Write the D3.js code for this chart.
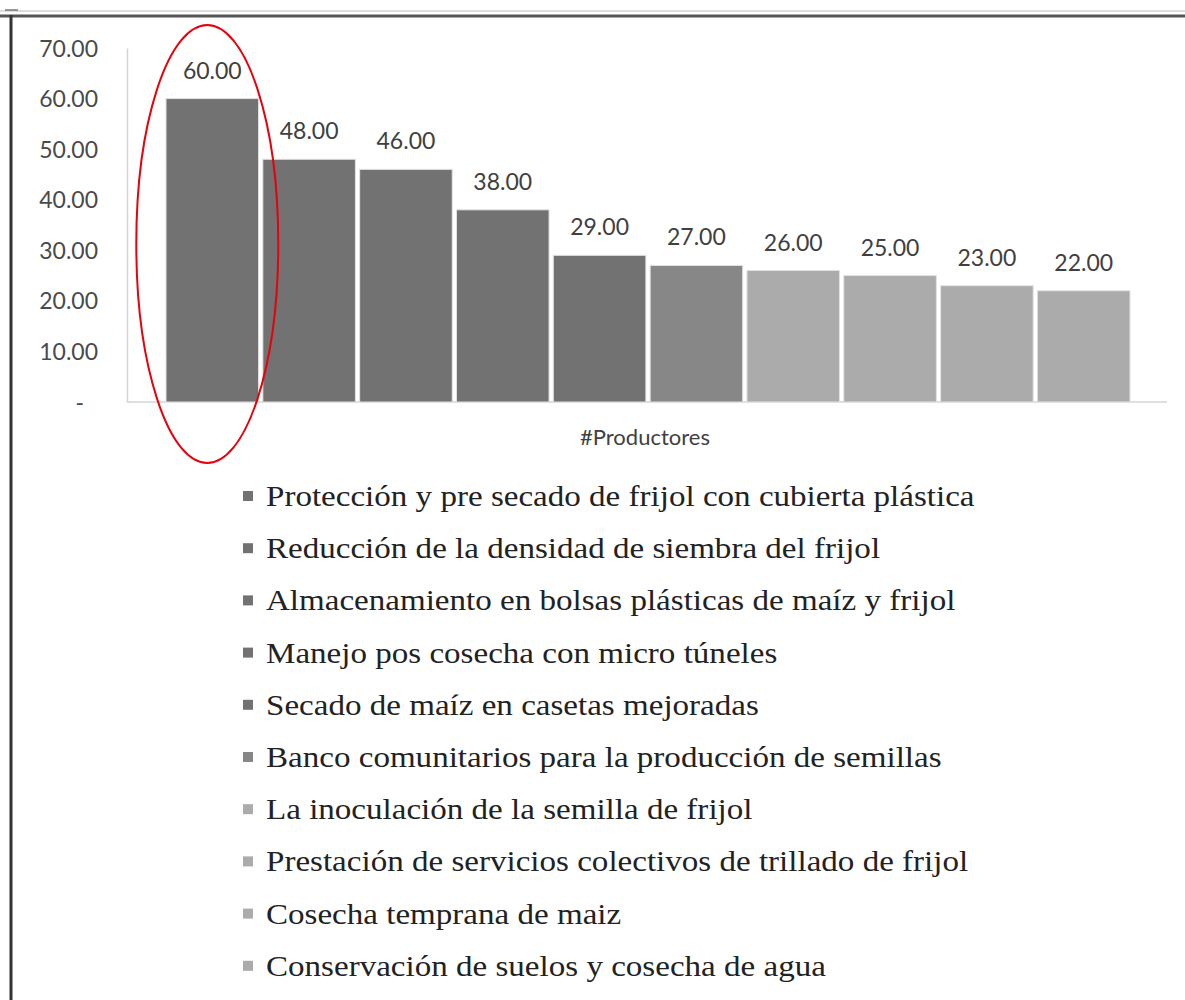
<!DOCTYPE html>
<html>
<head>
<meta charset="utf-8">
<script src="https://cdn.jsdelivr.net/npm/d3@7"></script>
<style>
  body { margin: 0; background: #fff; }
  svg { display: block; }
</style>
</head>
<body>
<svg id="chart" width="1185" height="1000"></svg>
<script>
// data
const practicas = [
  "Protección y pre secado de frijol con cubierta plástica",
  "Reducción de la densidad de siembra del frijol",
  "Almacenamiento en bolsas plásticas de maíz y frijol",
  "Manejo pos cosecha con micro túneles",
  "Secado de maíz en casetas mejoradas",
  "Banco comunitarios para la producción de semillas",
  "La inoculación de la semilla de frijol",
  "Prestación de servicios colectivos de trillado de frijol",
  "Cosecha temprana de maiz",
  "Conservación de suelos y cosecha de agua"
];
const productores = [60, 48, 46, 38, 29, 27, 26, 25, 23, 22];
const yTicks = [0, 10, 20, 30, 40, 50, 60, 70];
const yTickLabels = ["-", "10.00", "20.00", "30.00", "40.00", "50.00", "60.00", "70.00"];
const ejeX = "#Productores";

// grey shades per bar (style)
const fills = ["#727272", "#727272", "#727272", "#727272", "#727272",
               "#878787", "#ababab", "#ababab", "#ababab", "#ababab"];

const svg = d3.select("#chart");

// frame of the screenshot
svg.append("line").attr("x1", 0).attr("x2", 1185).attr("y1", 11).attr("y2", 11)
  .style("stroke", "#dcdcdc").style("stroke-width", 2);
svg.append("line").attr("x1", 0).attr("x2", 1185).attr("y1", 16).attr("y2", 16)
  .style("stroke", "#555").style("stroke-width", 3);
svg.append("line").attr("x1", 5).attr("x2", 18).attr("y1", 10).attr("y2", 10)
  .style("stroke", "#777").style("stroke-width", 1.5);
svg.append("line").attr("x1", 11).attr("x2", 11).attr("y1", 15).attr("y2", 1000)
  .style("stroke", "#333").style("stroke-width", 3);

// scales
const y = d3.scaleLinear().domain([0, 70]).range([402, 48]);
const x = d3.scaleBand().domain(practicas).range([166, 1130])
  .paddingInner(0.044).paddingOuter(0);

// y axis
const yAxis = svg.append("g")
  .attr("transform", "translate(127,0)")
  .call(d3.axisLeft(y).tickValues(yTicks)
    .tickFormat((d, i) => yTickLabels[i])
    .tickSize(0).tickPadding(29));
yAxis.select(".domain").style("stroke", "#d4d4d4").style("stroke-width", 1.5);
yAxis.selectAll("text")
  .style("font-family", "Lato, 'Open Sans', sans-serif")
  .style("font-size", "23px")
  .style("fill", "#4a4a4a")
  .attr("dy", "0.35em")
  .attr("dx", d => d === 0 ? -14 : 0);

// x axis baseline
svg.append("line")
  .attr("x1", 127).attr("x2", 1167)
  .attr("y1", y(0)).attr("y2", y(0))
  .style("stroke", "#d4d4d4").style("stroke-width", 1.5);

// bars
svg.append("g").selectAll("rect")
  .data(productores)
  .join("rect")
  .attr("x", (d, i) => x(practicas[i]))
  .attr("y", d => y(d))
  .attr("width", x.bandwidth())
  .attr("height", d => y(0) - y(d))
  .style("fill", (d, i) => fills[i])
  .style("stroke", "#e2e2e2")
  .style("stroke-width", 1);

// value labels
svg.append("g").selectAll("text")
  .data(productores)
  .join("text")
  .attr("x", (d, i) => x(practicas[i]) + x.bandwidth() / 2)
  .attr("y", d => y(d) - 20)
  .attr("text-anchor", "middle")
  .style("font-family", "Lato, 'Open Sans', sans-serif")
  .style("font-size", "23px")
  .style("fill", "#404040")
  .text(d => d3.format(".2f")(d));

// axis title
svg.append("text")
  .attr("x", 645).attr("y", 445)
  .attr("text-anchor", "middle")
  .style("font-family", "Lato, 'Open Sans', sans-serif")
  .style("font-size", "22px")
  .style("fill", "#404040")
  .text(ejeX);

// legend
const legend = svg.append("g").selectAll("g")
  .data(practicas)
  .join("g")
  .attr("transform", (d, i) => `translate(243,${496 + i * 52.2})`);

legend.append("rect")
  .attr("x", 0).attr("y", -5)
  .attr("width", 10).attr("height", 10)
  .style("fill", (d, i) => fills[i]);

// the source text is stretched sideways, so widen it a bit
legend.append("text")
  .attr("transform", "translate(23,0) scale(1.16,1)")
  .attr("dy", "0.35em")
  .style("font-family", "'Liberation Serif', 'Times New Roman', serif")
  .style("font-size", "28.5px")
  .style("fill", "#222")
  .text(d => d);

// red highlight ellipse around the first bar
svg.append("ellipse")
  .attr("cx", x(practicas[0]) + x.bandwidth() / 2 - 5)
  .attr("cy", 244)
  .attr("rx", 71).attr("ry", 219)
  .style("fill", "none")
  .style("stroke", "#e8000b")
  .style("stroke-width", 2);
</script>
</body>
</html>
